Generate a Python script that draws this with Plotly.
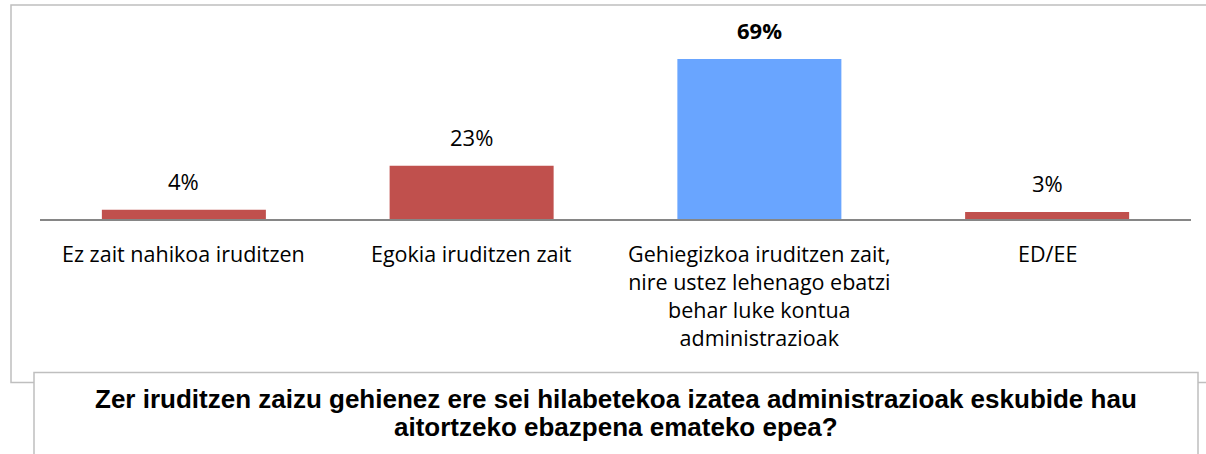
import plotly.graph_objects as go

categories = [
    "Ez zait nahikoa iruditzen",
    "Egokia iruditzen zait",
    "Gehiegizkoa iruditzen zait,<br>nire ustez lehenago ebatzi<br>behar luke kontua<br>administrazioak",
    "ED/EE",
]
values = [4, 23, 69, 3]
labels = ["4%", "23%", "69%", "3%"]
bar_colors = ["#C0504D", "#C0504D", "#69A5FF", "#C0504D"]
label_bold = [False, False, True, False]
title_lines = [
    "Zer iruditzen zaizu gehienez ere sei hilabetekoa izatea administrazioak eskubide hau",
    "aitortzeko ebazpena emateko epea?",
]

W, H = 1206, 454
L, R, T = 40, 15, 20
BASE = 218.7
B = H - BASE
PW = W - L - R
PH = BASE - T
px_per_unit = (BASE - 59) / 69.0
ymax = PH / px_per_unit

def xp(px):
    return (px - L) / PW

def yp(py):
    return (BASE - py) / PH

font_main = "Open Sans, Carlito, Calibri, sans-serif"

fig = go.Figure()
fig.add_trace(go.Bar(
    x=list(range(len(values))),
    y=values,
    marker=dict(color=bar_colors, line=dict(width=0)),
    width=0.57,
    hoverinfo="skip",
))

# value labels
for i, (v, lab, b) in enumerate(zip(values, labels, label_bold)):
    fig.add_annotation(
        x=i, y=v, xref="x", yref="y",
        text=f"<b>{lab}</b>" if b else lab,
        showarrow=False, yanchor="bottom", yshift=12,
        font=dict(family=font_main, size=22, color="#000000"),
    )

# category labels
for i, cat in enumerate(categories):
    fig.add_annotation(
        x=i, y=0, xref="x", yref="y",
        text=cat, showarrow=False, xanchor="center", yanchor="top",
        yshift=-18, align="center",
        font=dict(family=font_main, size=21.5, color="#000000"),
    )

gray = "#BFBFBF"
# outer frame
fig.add_shape(type="rect", xref="paper", yref="paper",
              x0=xp(11), x1=xp(1215), y0=yp(382), y1=yp(5),
              line=dict(color=gray, width=1.5), fillcolor="rgba(0,0,0,0)", layer="below")
# title box
fig.add_shape(type="rect", xref="paper", yref="paper",
              x0=xp(34), x1=xp(1198), y0=yp(470), y1=yp(372),
              line=dict(color=gray, width=1.5), fillcolor="white", layer="above")

for line, cy in zip(title_lines, [398, 426]):
    fig.add_annotation(
        xref="paper", yref="paper", x=xp(616), y=yp(cy),
        text=f"<b>{line}</b>", showarrow=False, xanchor="center", yanchor="middle",
        font=dict(family="Liberation Sans, Arial, sans-serif", size=26, color="#000000"),
    )

fig.update_layout(
    width=W, height=H,
    margin=dict(l=L, r=R, t=T, b=B, pad=0),
    paper_bgcolor="white", plot_bgcolor="white",
    showlegend=False,
    bargap=0.43,
    xaxis=dict(
        range=[-0.5, 3.5],
        tickmode="array", tickvals=list(range(len(categories))), ticktext=categories,
        showticklabels=False,
        showline=True, linecolor="#868686", linewidth=1.5,
        showgrid=False, zeroline=False, ticks="",
        fixedrange=True,
    ),
    yaxis=dict(
        range=[0, ymax], visible=False, showgrid=False, zeroline=False, fixedrange=True,
    ),
)

fig.write_html("out.html", config={"displayModeBar": False},
               post_script="document.body.style.margin='0';document.body.style.overflow='hidden';")
